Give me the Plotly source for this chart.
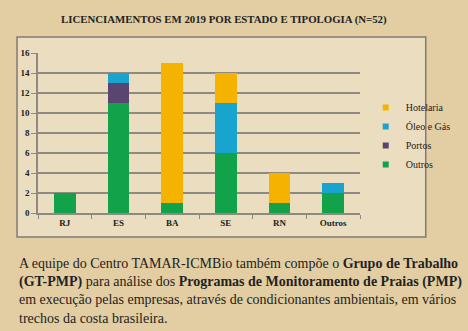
import plotly.graph_objects as go

categorias = ["RJ", "ES", "BA", "SE", "RN", "Outros"]
outros = [2, 11, 1, 6, 1, 2]
portos = [0, 2, 0, 0, 0, 0]
oleo_gas = [0, 1, 0, 5, 0, 1]
hotelaria = [0, 0, 14, 3, 3, 0]
y_ticks = [0, 2, 4, 6, 8, 10, 12, 14, 16]

titulo = "LICENCIAMENTOS EM 2019 POR ESTADO E TIPOLOGIA (N=52)"
paragrafo = ("A equipe do Centro TAMAR-ICMBio também compõe o <b>Grupo de Trabalho</b><br>"
             "<b>(GT-PMP)</b> para análise dos <b>Programas de Monitoramento de Praias (PMP)</b><br>"
             "em execução pelas empresas, através de condicionantes ambientais, em vários<br>"
             "trechos da costa brasileira.")

series = [
    ("Outros", outros, "#11a24a"),
    ("Portos", portos, "#5a4470"),
    ("Óleo e Gás", oleo_gas, "#19a3cf"),
    ("Hotelaria", hotelaria, "#f5b300"),
]

W, H = 468, 331
L, R, T, B = 38, 92, 53, 118
pw, ph = W - L - R, H - T - B

def px(x):
    return (x - L) / pw

def py(y):
    return (H - B - y) / ph

fig = go.Figure()
for name, vals, color in series:
    fig.add_trace(go.Bar(x=categorias, y=vals, name=name, marker_color=color,
                         marker_line_width=0, showlegend=False))
for name, vals, color in series:
    fig.add_trace(go.Scatter(x=[None], y=[None], mode="markers", name=name,
                             marker=dict(symbol="square", size=6, color=color)))

serif = "'Liberation Serif', 'DejaVu Serif', serif"
grid = "#8f8a80"
ink = "#222222"

fig.update_layout(
    width=W, height=H,
    margin=dict(l=L, r=R, t=T, b=B),
    barmode="stack", bargap=0.6,
    paper_bgcolor="#e3cea3", plot_bgcolor="rgba(0,0,0,0)",
    font=dict(family=serif, color=ink),
    legend=dict(x=px(382), y=py(93), xanchor="left", yanchor="top",
                traceorder="reversed", font=dict(size=10, family=serif, color=ink),
                itemwidth=30, tracegroupgap=0, bgcolor="rgba(0,0,0,0)"),
    xaxis=dict(showgrid=False, showline=True, linecolor=grid, linewidth=1.5,
               ticks="outside", tickson="boundaries", ticklen=4, tickcolor=grid,
               tickfont=dict(size=9, family=serif, color=ink, weight="bold")),
    yaxis=dict(range=[0, 16], tickvals=y_ticks, showgrid=True, gridcolor=grid, gridwidth=1.5,
               showline=True, linecolor=grid, linewidth=1.5, zeroline=False,
               ticks="outside", ticklen=5, tickcolor=grid,
               tickfont=dict(size=9, family=serif, color=ink, weight="bold")),
    shapes=[dict(type="rect", xref="paper", yref="paper",
                 x0=px(16), x1=px(445), y0=py(237), y1=py(37),
                 line=dict(color="#807b74", width=1.5), fillcolor="#ebdec0", layer="below")],
    annotations=[
        dict(text="<b>" + titulo + "</b>", xref="paper", yref="paper", x=px(233), y=py(20),
             xanchor="center", yanchor="middle", showarrow=False,
             font=dict(size=10.8, family=serif, color=ink)),
        dict(text=paragrafo, xref="paper", yref="paper", x=px(16), y=py(254),
             xanchor="left", yanchor="top", align="left", showarrow=False,
             font=dict(size=14, family=serif, color=ink)),
    ],
)

fig.write_html("out.html")
